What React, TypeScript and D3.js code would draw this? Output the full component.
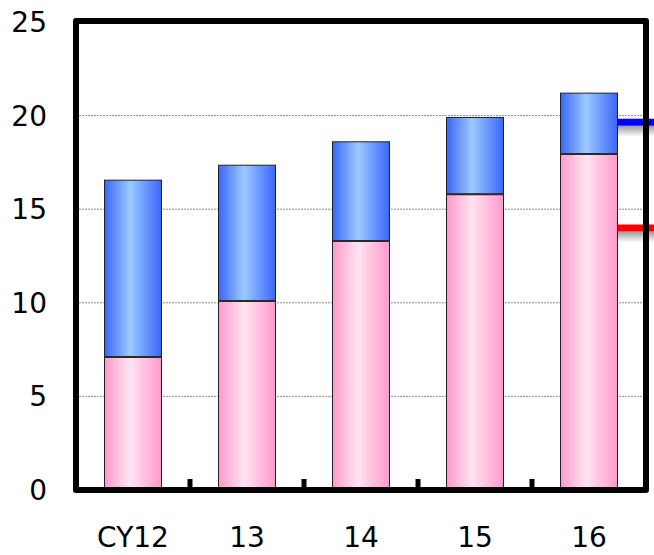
import { useEffect, useRef } from 'react';
import * as d3 from 'd3';

const categories = ['CY12', '13', '14', '15', '16'];
const pinkValues = [7.1, 10.1, 13.3, 15.8, 17.95];
const blueValues = [9.45, 7.25, 5.3, 4.1, 3.25];
const yTicks = [0, 5, 10, 15, 20, 25];
const markerValues = [19.65, 14.0];
const markerColors = ['#0000ff', '#ff0000'];

const width = 654;
const height = 555;

export default function App() {
  const svgRef = useRef<SVGSVGElement>(null);

  useEffect(() => {
    if (!svgRef.current) return;
    const svg = d3.select(svgRef.current);
    svg.selectAll('*').remove();

    const left = 76, right = 646, top = 21, bottom = 490;

    const x = d3.scaleBand()
      .domain(categories)
      .range([left, right])
      .paddingInner(0.5)
      .paddingOuter(0.25);

    const y = d3.scaleLinear().domain([0, 25]).range([bottom, 22]);

    const defs = svg.append('defs');
    const grad = (id: string, edge: string, mid: string) => {
      const g = defs.append('linearGradient').attr('id', id)
        .attr('x1', '0%').attr('x2', '100%').attr('y1', '0%').attr('y2', '0%');
      g.append('stop').attr('offset', '0%').attr('stop-color', edge);
      g.append('stop').attr('offset', '45%').attr('stop-color', mid);
      g.append('stop').attr('offset', '100%').attr('stop-color', edge);
    };
    grad('pinkGrad', '#ff99cc', '#ffe4f1');
    grad('blueGrad', '#3a66fa', '#9ccaff');

    const shadow = defs.append('linearGradient').attr('id', 'shadowGrad')
      .attr('x1', '0%').attr('x2', '0%').attr('y1', '0%').attr('y2', '100%');
    shadow.append('stop').attr('offset', '0%').attr('stop-color', '#9a9a9a');
    shadow.append('stop').attr('offset', '100%').attr('stop-color', '#ffffff');

    // gridlines
    svg.append('g')
      .selectAll('line')
      .data(yTicks.filter(t => t > 0 && t < 25))
      .enter().append('line')
      .attr('x1', left).attr('x2', right)
      .attr('y1', d => y(d)).attr('y2', d => y(d))
      .attr('stroke', '#8c8c8c')
      .attr('stroke-width', 1)
      .attr('stroke-dasharray', '2,1');

    // bars
    const bars = svg.append('g');
    categories.forEach((c, i) => {
      const x0 = x(c)!;
      const p = pinkValues[i];
      const t = p + blueValues[i];
      bars.append('rect')
        .attr('x', x0).attr('y', y(p))
        .attr('width', x.bandwidth()).attr('height', y(0) - y(p))
        .attr('fill', 'url(#pinkGrad)')
        .attr('stroke', '#222').attr('stroke-width', 1);
      bars.append('rect')
        .attr('x', x0).attr('y', y(t))
        .attr('width', x.bandwidth()).attr('height', y(p) - y(t))
        .attr('fill', 'url(#blueGrad)')
        .attr('stroke', '#222').attr('stroke-width', 1);
      bars.append('line')
        .attr('x1', x0).attr('x2', x0 + x.bandwidth())
        .attr('y1', y(p)).attr('y2', y(p))
        .attr('stroke', '#2a2a2a').attr('stroke-width', 2);
    });

    // marker lines at the right
    const last = categories[categories.length - 1];
    const mx0 = x(last)! + x.bandwidth() + 0.5;
    markerValues.forEach((v, i) => {
      svg.append('rect')
        .attr('x', mx0).attr('y', y(v) + 3.5)
        .attr('width', width - mx0).attr('height', 11)
        .attr('fill', 'url(#shadowGrad)');
      svg.append('line')
        .attr('x1', mx0).attr('x2', width)
        .attr('y1', y(v)).attr('y2', y(v))
        .attr('stroke', markerColors[i]).attr('stroke-width', 7);
    });

    // frame
    svg.append('rect')
      .attr('x', left).attr('y', top)
      .attr('width', right - left).attr('height', bottom - top)
      .attr('fill', 'none')
      .attr('stroke', '#000').attr('stroke-width', 6)
      .attr('stroke-linejoin', 'round');

    // category ticks
    const step = x.step();
    svg.append('g')
      .selectAll('line')
      .data(categories.slice(0, -1))
      .enter().append('line')
      .attr('x1', d => x(d)! + x.bandwidth() + (step - x.bandwidth()) / 2)
      .attr('x2', d => x(d)! + x.bandwidth() + (step - x.bandwidth()) / 2)
      .attr('y1', bottom).attr('y2', bottom - 11)
      .attr('stroke', '#000').attr('stroke-width', 5);

    // y labels
    svg.append('g')
      .selectAll('text')
      .data(yTicks)
      .enter().append('text')
      .attr('x', 47)
      .attr('y', d => y(d))
      .attr('dy', '0.36em')
      .attr('text-anchor', 'end')
      .attr('font-family', 'DejaVu Sans, Verdana, sans-serif')
      .attr('font-size', 28)
      .attr('fill', '#000')
      .text(d => d);

    // x labels
    svg.append('g')
      .selectAll('text')
      .data(categories)
      .enter().append('text')
      .attr('x', d => x(d)! + x.bandwidth() / 2)
      .attr('y', 547)
      .attr('text-anchor', 'middle')
      .attr('font-family', 'DejaVu Sans, Verdana, sans-serif')
      .attr('font-size', 28)
      .attr('fill', '#000')
      .text(d => d);
  }, []);

  return (
    <div style={{ position: 'absolute', left: 0, top: 0 }}>
      <svg ref={svgRef} width={width} height={height} style={{ display: 'block' }} />
    </div>
  );
}
